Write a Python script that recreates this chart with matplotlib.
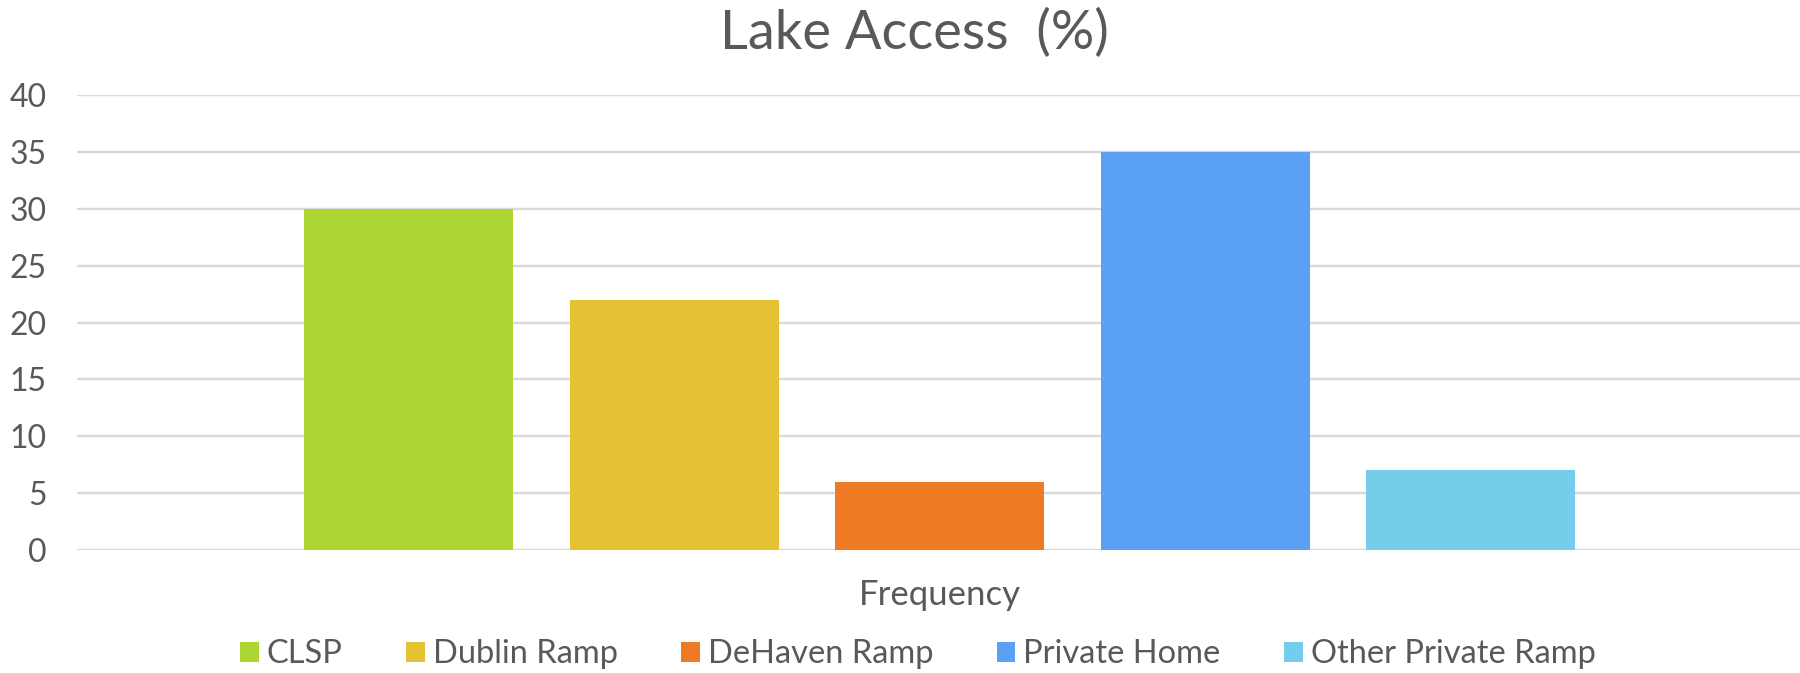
import numpy as np
import matplotlib
matplotlib.use("Agg")
import matplotlib.pyplot as plt

# data
series_names = ['CLSP', 'Dublin Ramp', 'DeHaven Ramp', 'Private Home', 'Other Private Ramp']
series_values = [30, 22, 6, 35, 7]
category = 'Frequency'
bar_colors = ['#ADD633', '#E5C134', '#EE7B24', '#5AA0F4', '#74CDEB']
y_ticks = [0, 5, 10, 15, 20, 25, 30, 35, 40]

text_col = '#595959'
grid_col = '#D9D9D9'
plt.rcParams['font.family'] = ['Lato', 'DejaVu Sans']

fig = plt.figure(figsize=(18, 6.73), dpi=100)
ax = fig.add_axes([0.0428, 0.1828, 0.9572, 0.676])

# one category, five series side by side
x = np.arange(len(series_names))
bars = []
for i in range(len(series_names)):
	b = ax.bar(x[i], series_values[i], width=0.787, color=bar_colors[i],
		label=series_names[i], zorder=3)
	bars.append(b)

ax.set_xlim(-1.25, 5.24)
ax.set_ylim(0, 40)

ax.set_yticks(y_ticks)
ax.set_yticklabels([str(v) for v in y_ticks], fontsize=23, color=text_col)
ax.set_xticks([2])
ax.set_xticklabels([category], fontsize=25, color=text_col)
ax.tick_params(axis='both', length=0)
ax.tick_params(axis='y', pad=22)
ax.tick_params(axis='x', pad=21)

# grid stuff
ax.yaxis.grid(True, color=grid_col, linewidth=1.7, zorder=0)
ax.set_axisbelow(True)
for s in ax.spines.values():
	s.set_visible(False)

# title and legend
fig.text(0.508, 0.927, 'Lake Access  (%)', ha='center', va='baseline',
	fontsize=39, color=text_col)
leg = fig.legend(handles=bars, labels=series_names, loc='center',
	bbox_to_anchor=(0.51, 0.028), ncol=5, frameon=False, fontsize=23.5,
	handlelength=0.56, handleheight=0.56, handletextpad=0.25,
	columnspacing=1.95, labelcolor=text_col)

fig.savefig("out.png", dpi=100)
